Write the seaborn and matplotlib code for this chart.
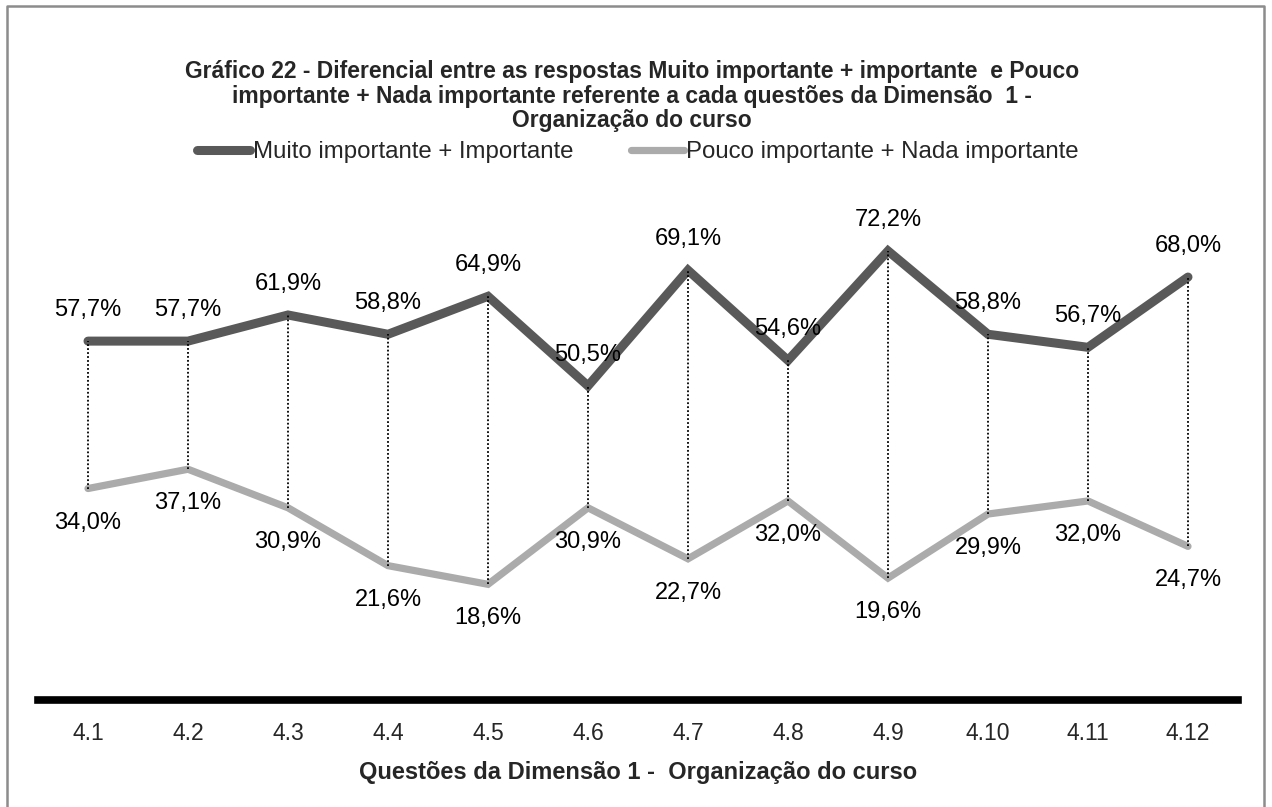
import matplotlib
matplotlib.use("Agg")
import matplotlib.pyplot as plt
import seaborn as sns
import pandas as pd
from matplotlib.lines import Line2D

questions = ["4.1", "4.2", "4.3", "4.4", "4.5", "4.6", "4.7", "4.8", "4.9", "4.10", "4.11", "4.12"]
muito_importante = [57.7, 57.7, 61.9, 58.8, 64.9, 50.5, 69.1, 54.6, 72.2, 58.8, 56.7, 68.0]
pouco_importante = [34.0, 37.1, 30.9, 21.6, 18.6, 30.9, 22.7, 32.0, 19.6, 29.9, 32.0, 24.7]
series_names = ["Muito importante + Importante", "Pouco importante + Nada importante"]

title = ("Gráfico 22 - Diferencial entre as respostas Muito importante + importante  e Pouco\n"
         "importante + Nada importante referente a cada questões da Dimensão  1 -\n"
         "Organização do curso")
xlabel = "Questões da Dimensão 1 -  Organização do curso"

sns.set_theme(style="white")
plt.rcParams['font.family'] = ['Liberation Sans', 'DejaVu Sans']

df = pd.DataFrame({
    "questao": questions * 2,
    "valor": [v / 100 for v in muito_importante] + [v / 100 for v in pouco_importante],
    "serie": [series_names[0]] * len(questions) + [series_names[1]] * len(questions),
})

W, H = 1272, 807
fig = plt.figure(figsize=(W / 100, H / 100), dpi=100)
ax = fig.add_axes([38 / W, (H - 700) / H, 1200 / W, 497.6 / H])

colors = {series_names[0]: "#595959", series_names[1]: "#ABABAB"}
sns.lineplot(data=df, x="questao", y="valor", hue="serie", palette=colors,
             sort=False, ax=ax, legend=False, estimator=None)
lines = ax.get_lines()
lines[0].set_linewidth(6.5)
lines[1].set_linewidth(5.2)
for ln in lines:
    ln.set_solid_capstyle("round")
    ln.set_solid_joinstyle("miter")

xs = list(range(len(questions)))
top = [v / 100 for v in muito_importante]
bot = [v / 100 for v in pouco_importante]
ax.vlines(xs, bot, top, colors="black", linestyles=(0, (1, 1.2)), linewidth=1.3, zorder=5)

fs = 17
for i in xs:
    ax.annotate(f"{muito_importante[i]:.1f}%".replace(".", ","), (i, top[i]),
                xytext=(0, 31), textcoords="offset pixels", ha="center", va="center",
                fontsize=fs, color="black")
    ax.annotate(f"{pouco_importante[i]:.1f}%".replace(".", ","), (i, bot[i]),
                xytext=(0, -34), textcoords="offset pixels", ha="center", va="center",
                fontsize=fs, color="black")

ax.set_xlim(-0.5, len(questions) - 0.5)
ax.set_ylim(0, 0.8)
ax.set_yticks([])
ax.set_ylabel("")
ax.set_xlabel(xlabel, fontsize=17, fontweight="bold", labelpad=11)
ax.tick_params(axis="x", length=0, labelsize=16.5, pad=16)
for s in ["top", "left", "right"]:
    ax.spines[s].set_visible(False)
ax.spines["bottom"].set_linewidth(5.5)
ax.spines["bottom"].set_color("black")
ax.set_facecolor("white")

fig.text(632 / W, 1 - 96 / H, title, ha="center", va="center", fontsize=16.5,
         fontweight="bold", linespacing=1.08)

handles = [Line2D([], [], color=colors[n], linewidth=6.5 if k == 0 else 5.2, solid_capstyle="round")
           for k, n in enumerate(series_names)]
fig.legend(handles, series_names, loc="center", bbox_to_anchor=(638 / W, 1 - 152 / H),
           ncol=2, frameon=False, fontsize=17.3, handlelength=2.2, handletextpad=0.1,
           columnspacing=2.4)

# chart border
fig.add_artist(Line2D([7 / W, 7 / W, 1264 / W, 1264 / W], [0, 1 - 6 / H, 1 - 6 / H, 0],
                      transform=fig.transFigure, color="#8C8C8C", linewidth=1.8))

fig.savefig("out.png", dpi=100, facecolor="white")
